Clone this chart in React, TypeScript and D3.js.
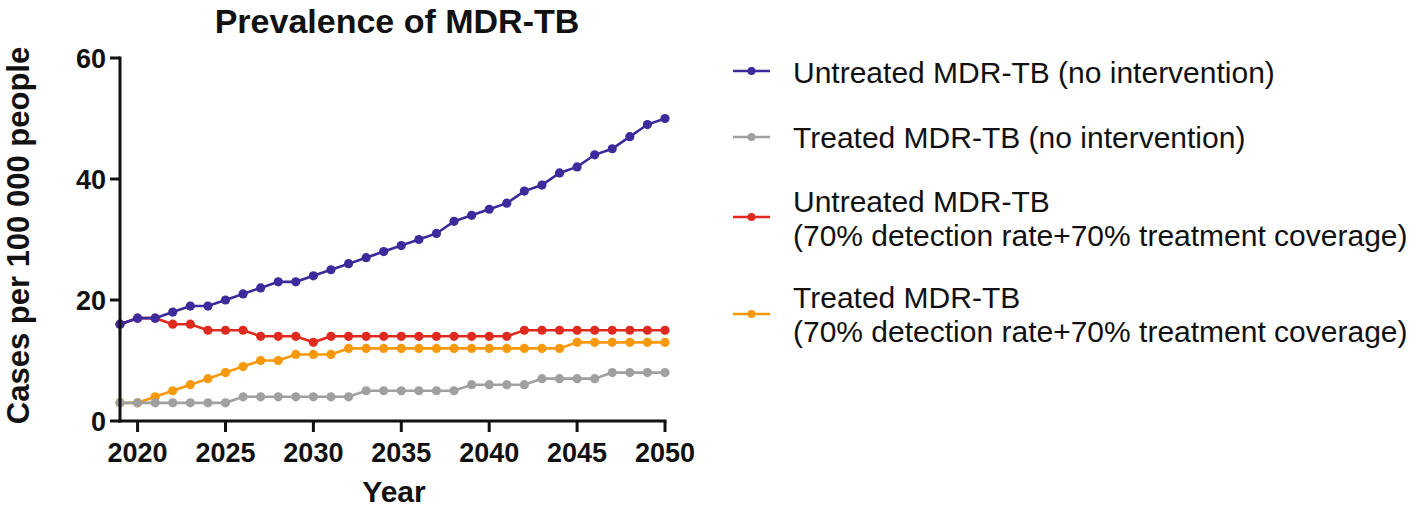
import React from "react";
import * as d3 from "d3";

const years: number[] = d3.range(2019, 2051);

const untreatedNoInt: number[] = [16, 17, 17, 18, 19, 19, 20, 21, 22, 23, 23, 24, 25, 26, 27, 28, 29, 30, 31, 33, 34, 35, 36, 38, 39, 41, 42, 44, 45, 47, 49, 50];
const treatedNoInt: number[] = [3, 3, 3, 3, 3, 3, 3, 4, 4, 4, 4, 4, 4, 4, 5, 5, 5, 5, 5, 5, 6, 6, 6, 6, 7, 7, 7, 7, 8, 8, 8, 8];
const untreatedInt: number[] = [16, 17, 17, 16, 16, 15, 15, 15, 14, 14, 14, 13, 14, 14, 14, 14, 14, 14, 14, 14, 14, 14, 14, 15, 15, 15, 15, 15, 15, 15, 15, 15];
const treatedInt: number[] = [3, 3, 4, 5, 6, 7, 8, 9, 10, 10, 11, 11, 11, 12, 12, 12, 12, 12, 12, 12, 12, 12, 12, 12, 12, 12, 13, 13, 13, 13, 13, 13];

const xTicks: number[] = [2020, 2025, 2030, 2035, 2040, 2045, 2050];
const yTicks: number[] = [0, 20, 40, 60];

const seriesNames: string[][] = [
  ["Untreated MDR-TB (no intervention)"],
  ["Treated MDR-TB (no intervention)"],
  ["Untreated MDR-TB", "(70% detection rate+70% treatment coverage)"],
  ["Treated MDR-TB", "(70% detection rate+70% treatment coverage)"],
];
const seriesValues: number[][] = [untreatedNoInt, treatedNoInt, untreatedInt, treatedInt];
const colors: string[] = ["#3b2b9b", "#a0a0a0", "#df2a1f", "#f8990b"];

const FONT = "'Liberation Sans', Arial, Helvetica, sans-serif";

export default function App() {
  const x = d3.scaleLinear().domain([2019, 2050]).range([120, 665]);
  const y = d3.scaleLinear().domain([0, 60]).range([421, 58]);
  const line = d3
    .line<number>()
    .x((_, i) => x(years[i]))
    .y((d) => y(d));

  const drawOrder = [3, 2, 1, 0];
  const legendY = [[72], [137], [201, 235], [297, 331]];
  const legendSym = [71, 137, 217, 314];

  return (
    <svg width={1418} height={508} style={{ position: "absolute", left: 0, top: 0 }}>
      <rect width={1418} height={508} fill="#fff" />
      <text x={397} y={33} textAnchor="middle" fontFamily={FONT} fontWeight="bold" fontSize={34} fill="#111">
        Prevalence of MDR-TB
      </text>

      {/* series */}
      {drawOrder.map((si) => (
        <g key={si}>
          <path d={line(seriesValues[si]) || ""} fill="none" stroke={colors[si]} strokeWidth={2.6} />
          {seriesValues[si].map((v, i) => (
            <circle key={i} cx={x(years[i])} cy={y(v)} r={4.6} fill={colors[si]} />
          ))}
        </g>
      ))}

      {/* axes */}
      <line x1={120} x2={120} y1={y(60) - 1.5} y2={y(0) + 1.5} stroke="#111" strokeWidth={3} />
      <line x1={118.5} x2={x(2050) + 1.5} y1={y(0)} y2={y(0)} stroke="#111" strokeWidth={3} />
      {yTicks.map((t) => (
        <g key={t}>
          <line x1={110} x2={120} y1={y(t)} y2={y(t)} stroke="#111" strokeWidth={3} />
          <text x={106} y={y(t)} dy="0.36em" textAnchor="end" fontFamily={FONT} fontWeight="bold" fontSize={27} fill="#111">
            {t}
          </text>
        </g>
      ))}
      {xTicks.map((t) => (
        <g key={t}>
          <line x1={x(t)} x2={x(t)} y1={y(0)} y2={y(0) + 11} stroke="#111" strokeWidth={3} />
          <text x={x(t)} y={462} textAnchor="middle" fontFamily={FONT} fontWeight="bold" fontSize={27} fill="#111">
            {t}
          </text>
        </g>
      ))}
      <text x={394} y={502} textAnchor="middle" fontFamily={FONT} fontWeight="bold" fontSize={30} fill="#111">
        Year
      </text>
      <text
        transform={`translate(29,${(y(0) + y(60)) / 2 - 4}) rotate(-90)`}
        textAnchor="middle"
        fontFamily={FONT}
        fontWeight="bold"
        fontSize={31}
        fill="#111"
      >
        Cases per 100 000 people
      </text>

      {/* legend */}
      {seriesNames.map((lines, si) => (
        <g key={si}>
          <line x1={733} x2={770} y1={legendSym[si]} y2={legendSym[si]} stroke={colors[si]} strokeWidth={2.6} />
          <circle cx={751.5} cy={legendSym[si]} r={4} fill={colors[si]} />
          {lines.map((l, li) => (
            <text key={li} x={793} y={legendY[si][li]} dy="0.36em" fontFamily={FONT} fontSize={30} fill="#111">
              {l}
            </text>
          ))}
        </g>
      ))}
    </svg>
  );
}
